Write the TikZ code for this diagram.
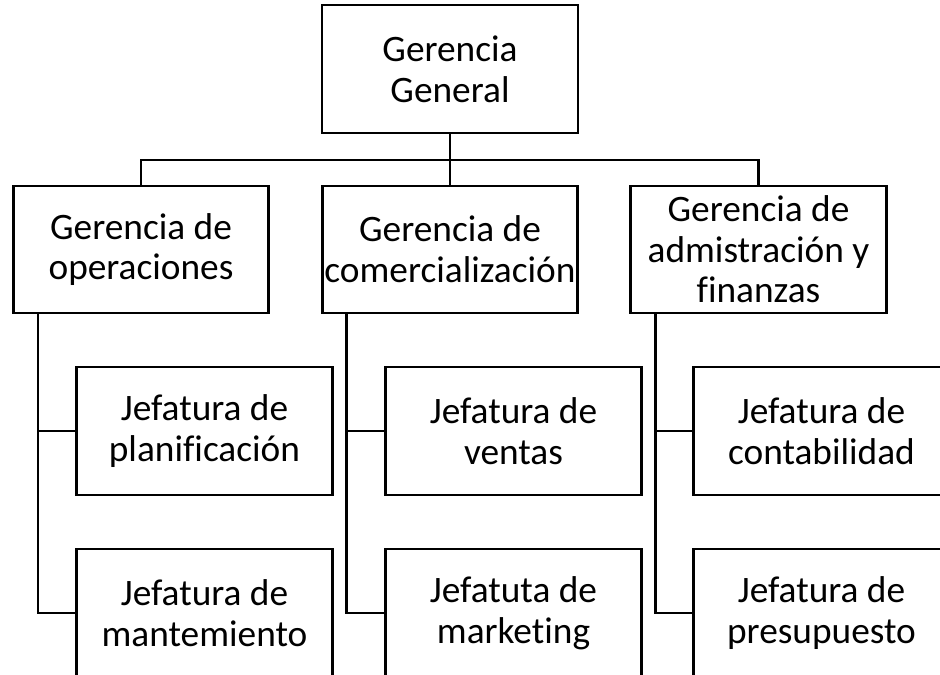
\documentclass[tikz,border=0pt]{standalone}
\usepackage{fontspec}
\setmainfont{Carlito}[Ligatures=NoCommon]
\begin{document}
\begin{tikzpicture}[x=0.75pt,y=-0.75pt,
  box/.style={draw=black,line width=2.1pt,fill=white,align=center,inner xsep=0pt,inner ysep=0pt,
    minimum width=191.5pt,minimum height=96pt,font=\fontsize{28}{30.5}\selectfont},
  box2/.style={box,minimum height=95.25pt},
  link/.style={draw=black,line width=2.1pt}]
\useasboundingbox (0,0) rectangle (940,675);
\node[box,minimum width=192pt] (top) at (450,69) {Gerencia\\General};
\node[box2] (g1) at (141,249.5) {Gerencia de\\operaciones};
\node[box2] (g2) at (450,249.5) {Gerencia de\\comercialización};
\node[box2] (g3) at (758.5,249.5) {Gerencia de\\admistración y\\finanzas};
\node[box] (j1a) at (204.5,431) {Jefatura de\\planificación};
\node[box] (j1b) at (204.5,613) {Jefatura de\\mantemiento};
\node[box] (j2a) at (513.5,431) {Jefatura de\\ventas};
\node[box] (j2b) at (513.5,613) {Jefatuta de\\marketing};
\node[box] (j3a) at (821.5,431) {Jefatura de\\contabilidad};
\node[box] (j3b) at (821.5,613) {Jefatura de\\presupuesto};
\coordinate (bus) at (450,160);
\draw[link] (top.south) -- (g2.north);
\draw[link] (g1.north) -- (g1.north |- bus) -- (g3.north |- bus) -- (g3.north);
\coordinate (t1) at ([xshift=19.5pt]g1.south west);
\coordinate (t2) at ([xshift=19pt]g2.south west);
\coordinate (t3) at ([xshift=19.5pt]g3.south west);
\draw[link] (t1) |- (j1b.west);
\draw[link] (t1 |- j1a.west) -- (j1a.west);
\draw[link] (t2) |- (j2b.west);
\draw[link] (t2 |- j2a.west) -- (j2a.west);
\draw[link] (t3) |- (j3b.west);
\draw[link] (t3 |- j3a.west) -- (j3a.west);
\end{tikzpicture}
\end{document}
